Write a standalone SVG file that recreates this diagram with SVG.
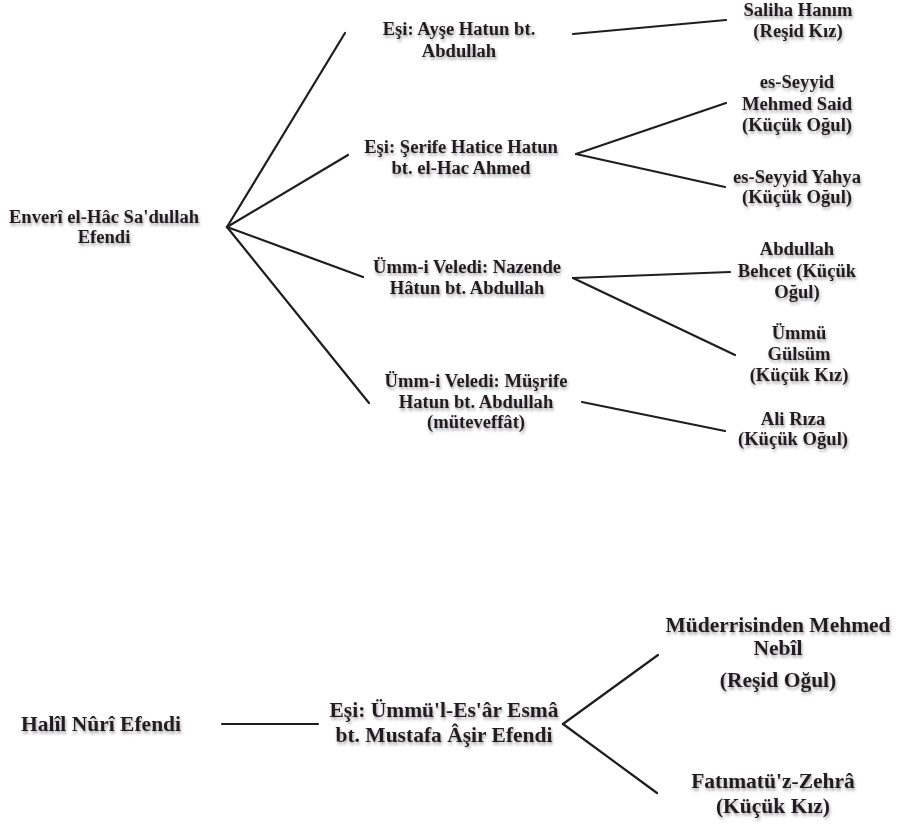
<svg xmlns="http://www.w3.org/2000/svg" width="902" height="826" viewBox="0 0 902 826">
<defs>
<filter id="sh" x="-10%" y="-20%" width="120%" height="160%">
<feDropShadow dx="1" dy="2.5" stdDeviation="1.6" flood-color="#000" flood-opacity="0.35"/>
</filter>
</defs>
<style>
.t{font-family:"Liberation Serif","Times New Roman",serif;font-weight:bold;font-size:18.6px;fill:#231f20;text-anchor:middle;filter:url(#sh)}
.b{font-size:21.5px}
.c line{stroke:#1e1e1e;stroke-width:2.2;stroke-linecap:round}
</style>
<rect width="902" height="826" fill="#fff"/>
<g class="c" id="connectors">
<line x1="227" y1="227" x2="345" y2="33"/>
<line x1="227" y1="227" x2="348" y2="155"/>
<line x1="227" y1="227" x2="363" y2="277"/>
<line x1="227" y1="227" x2="369" y2="403"/>
<line x1="573" y1="34" x2="726" y2="20"/>
<line x1="576" y1="154" x2="726" y2="103"/>
<line x1="576" y1="154" x2="725" y2="187"/>
<line x1="573" y1="278" x2="730" y2="272"/>
<line x1="573" y1="278" x2="735" y2="355"/>
<line x1="582" y1="402" x2="725" y2="431"/>
<line x1="222" y1="724" x2="318" y2="724"/>
<line x1="563" y1="724" x2="658" y2="655"/>
<line x1="563" y1="724" x2="657" y2="793"/>
</g>
<g id="root1"><text class="t" x="104" y="223">Enverî el-Hâc Sa'dullah</text><text class="t" x="104" y="243">Efendi</text></g>
<g id="spouse1"><text class="t" x="459" y="35">Eşi: Ayşe Hatun bt.</text><text class="t" x="459" y="57">Abdullah</text></g>
<g id="spouse2"><text class="t" x="461" y="153">Eşi: Şerife Hatice Hatun</text><text class="t" x="461" y="174">bt. el-Hac Ahmed</text></g>
<g id="spouse3"><text class="t" x="467" y="273">Ümm-i Veledi: Nazende</text><text class="t" x="467" y="294">Hâtun bt. Abdullah</text></g>
<g id="spouse4"><text class="t" x="476" y="387">Ümm-i Veledi: Müşrife</text><text class="t" x="476" y="408">Hatun bt. Abdullah</text><text class="t" x="476" y="428">(müteveffât)</text></g>
<g id="child1"><text class="t" x="798" y="16">Saliha Hanım</text><text class="t" x="798" y="37">(Reşid Kız)</text></g>
<g id="child2"><text class="t" x="797" y="88">es-Seyyid</text><text class="t" x="797" y="110">Mehmed Said</text><text class="t" x="797" y="131">(Küçük Oğul)</text></g>
<g id="child3"><text class="t" x="797" y="183">es-Seyyid Yahya</text><text class="t" x="797" y="203">(Küçük Oğul)</text></g>
<g id="child4"><text class="t" x="797" y="255">Abdullah</text><text class="t" x="797" y="277">Behcet (Küçük</text><text class="t" x="797" y="298">Oğul)</text></g>
<g id="child5"><text class="t" x="799" y="339">Ümmü</text><text class="t" x="799" y="360">Gülsüm</text><text class="t" x="799" y="381">(Küçük Kız)</text></g>
<g id="child6"><text class="t" x="793" y="425">Ali Rıza</text><text class="t" x="793" y="445">(Küçük Oğul)</text></g>
<g id="root2"><text class="t b" x="101" y="731">Halîl Nûrî Efendi</text></g>
<g id="spouse5"><text class="t b" x="444" y="717">Eşi: Ümmü'l-Es'âr Esmâ</text><text class="t b" x="444" y="742">bt. Mustafa Âşir Efendi</text></g>
<g id="child7"><text class="t b" x="778" y="632">Müderrisinden Mehmed</text><text class="t b" x="778" y="655">Nebîl</text><text class="t b" x="778" y="687">(Reşid Oğul)</text></g>
<g id="child8"><text class="t b" x="773" y="788">Fatımatü'z-Zehrâ</text><text class="t b" x="773" y="813">(Küçük Kız)</text></g>
</svg>
